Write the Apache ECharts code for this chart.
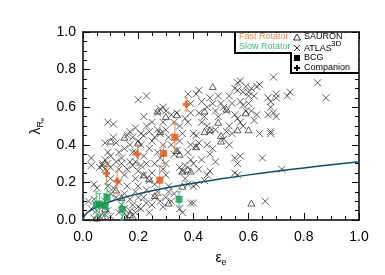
<!DOCTYPE html>
<html><head><meta charset="utf-8">
<script src="https://cdn.jsdelivr.net/npm/echarts@6/dist/echarts.min.js"></script>
<style>html,body{margin:0;padding:0;background:#fff}#c{width:385px;height:275px}</style>
</head><body><div id="c"></div>
<script>
// ATLAS3D (crosses) [epsilon, lambda]
const atlas = [
[0.03,0.33],[0.03,0.29],[0.04,0.19],[0.05,0.17],[0.04,0.11],[0.02,0.10],[0.03,0.06],[0.05,0.05],[0.06,0.02],[0.04,0.01],
[0.07,0.30],[0.06,0.28],[0.07,0.29],[0.08,0.27],[0.09,0.30],[0.08,0.32],[0.10,0.34],[0.09,0.36],[0.08,0.41],[0.09,0.52],
[0.11,0.51],[0.12,0.41],[0.11,0.44],[0.10,0.28],[0.10,0.22],[0.09,0.18],[0.10,0.14],[0.08,0.10],[0.07,0.07],[0.08,0.03],
[0.09,0.05],[0.10,0.02],[0.11,0.17],[0.12,0.12],[0.13,0.20],[0.13,0.27],[0.12,0.31],[0.14,0.33],[0.13,0.36],[0.15,0.38],
[0.14,0.30],[0.15,0.24],[0.16,0.18],[0.15,0.14],[0.14,0.08],[0.13,0.04],[0.15,0.06],[0.16,0.02],[0.17,0.05],[0.18,0.08],
[0.17,0.11],[0.16,0.27],[0.17,0.31],[0.18,0.29],[0.17,0.40],[0.18,0.44],[0.17,0.47],[0.16,0.45],[0.19,0.49],[0.18,0.36],
[0.19,0.31],[0.19,0.22],[0.20,0.18],[0.19,0.15],[0.20,0.12],[0.19,0.04],[0.20,0.07],[0.20,0.26],[0.21,0.29],[0.20,0.42],
[0.20,0.64],[0.21,0.40],[0.21,0.46],[0.19,0.36],[0.22,0.45],[0.23,0.50],[0.22,0.55],[0.23,0.66],[0.24,0.47],[0.25,0.42],
[0.24,0.38],[0.22,0.34],[0.23,0.30],[0.22,0.24],[0.24,0.21],[0.23,0.16],[0.22,0.12],[0.23,0.09],[0.21,0.06],[0.24,0.04],
[0.25,0.08],[0.26,0.12],[0.27,0.15],[0.26,0.19],[0.25,0.25],[0.26,0.30],[0.27,0.36],[0.26,0.44],[0.27,0.48],[0.25,0.52],
[0.27,0.57],[0.28,0.59],[0.29,0.60],[0.30,0.58],[0.29,0.52],[0.28,0.46],[0.29,0.40],[0.28,0.33],[0.29,0.27],[0.30,0.24],
[0.28,0.10],[0.29,0.07],[0.30,0.12],[0.31,0.15],[0.30,0.30],[0.31,0.44],[0.30,0.48],[0.32,0.56],[0.33,0.52],[0.34,0.57],
[0.35,0.50],[0.36,0.46],[0.35,0.42],[0.34,0.37],[0.33,0.35],[0.32,0.40],[0.31,0.18],[0.33,0.14],[0.32,0.10],[0.35,0.06],
[0.36,0.04],[0.35,0.28],[0.36,0.26],[0.37,0.29],[0.38,0.67],[0.37,0.54],[0.38,0.52],[0.39,0.57],[0.39,0.62],[0.40,0.46],
[0.39,0.40],[0.38,0.36],[0.39,0.32],[0.40,0.30],[0.37,0.22],[0.38,0.19],[0.39,0.09],[0.40,0.09],[0.40,0.18],[0.41,0.67],
[0.42,0.69],[0.43,0.63],[0.42,0.57],[0.44,0.55],[0.43,0.52],[0.41,0.45],[0.42,0.41],[0.41,0.39],[0.43,0.32],[0.42,0.27],
[0.41,0.19],[0.44,0.21],[0.45,0.60],[0.46,0.65],[0.47,0.62],[0.48,0.58],[0.45,0.50],[0.46,0.47],[0.48,0.48],[0.49,0.55],
[0.50,0.62],[0.49,0.66],[0.47,0.38],[0.46,0.35],[0.45,0.40],[0.48,0.31],[0.46,0.26],[0.45,0.24],[0.51,0.60],[0.52,0.58],
[0.53,0.66],[0.54,0.62],[0.55,0.70],[0.56,0.73],[0.57,0.74],[0.56,0.69],[0.57,0.63],[0.58,0.68],[0.59,0.71],[0.55,0.56],
[0.56,0.54],[0.57,0.52],[0.53,0.50],[0.52,0.47],[0.54,0.46],[0.51,0.43],[0.53,0.40],[0.55,0.33],[0.57,0.34],[0.56,0.30],
[0.55,0.25],[0.56,0.24],[0.58,0.50],[0.59,0.58],[0.60,0.62],[0.58,0.61],[0.60,0.68],[0.61,0.70],[0.62,0.66],[0.63,0.71],
[0.64,0.72],[0.60,0.66],[0.61,0.58],[0.63,0.56],[0.62,0.53],[0.64,0.46],[0.65,0.33],[0.66,0.10],[0.67,0.65],[0.68,0.63],
[0.70,0.67],[0.69,0.76],[0.70,0.65],[0.68,0.60],[0.69,0.57],[0.70,0.55],[0.67,0.56],[0.68,0.46],[0.68,0.47],[0.72,0.27],
[0.74,0.66],[0.75,0.68],[0.85,0.73],[0.88,0.65]
];
// SAURON (open triangles)
const sauron = [
[0.05,0.01],[0.07,0.02],[0.10,0.42],[0.12,0.16],[0.14,0.12],[0.15,0.02],[0.17,0.03],[0.18,0.02],[0.22,0.24],[0.24,0.22],
[0.30,0.55],[0.31,0.09],[0.34,0.37],[0.35,0.35],[0.34,0.56],[0.36,0.26],[0.38,0.27],[0.39,0.26],[0.41,0.39],[0.44,0.47],
[0.46,0.48],[0.47,0.71],[0.49,0.52],[0.50,0.45],[0.50,0.42],[0.56,0.48],[0.59,0.57],[0.60,0.48],[0.61,0.09],[0.15,0.44],
[0.20,0.41],[0.27,0.58],[0.28,0.47],[0.08,0.06],[0.44,0.58],[0.52,0.59],[0.26,0.13],[0.36,0.18]
];
// Fast rotators: [eps, lambda, low, high]
const fastBCG = [[0.278,0.212,0.13,0.29],[0.292,0.354,0.30,0.40],[0.333,0.44,0.36,0.51]];
const fastComp = [[0.085,0.248,0.19,0.30],[0.124,0.207,0.14,0.26],[0.197,0.35,0.29,0.40],[0.374,0.615,0.58,0.65]];
// Slow rotators: [eps, lambda, low, high]
const slowBCG = [[0.048,0.081,0.02,0.15],[0.060,0.085,0.03,0.14],[0.080,0.078,0.02,0.14],[0.087,0.12,0.06,0.19],[0.142,0.057,0.00,0.11],[0.348,0.11,0.07,0.15]];
// Fast/slow dividing line
const divEps = [0,0.005,0.01,0.02,0.04,0.07,0.1,0.15,0.2,0.3,0.4,0.5,0.6,0.7,0.8,0.9,1.0];
const divLam = [0,0.022,0.031,0.044,0.062,0.082,0.098,0.12,0.139,0.17,0.196,0.219,0.24,0.259,0.277,0.294,0.31];
const ticks = [0,0.2,0.4,0.6,0.8,1.0];

const ORANGE='#e2520e', ORANGE_L='#f08a50', GREEN='#129a4e', GREEN_L='#3fbf7a';
const FONT='Liberation Sans';
const PLUS='path://M3,0h4v3h3v4h-3v3h-4v-3h-3v-4h3z';
const CROSS='path://M0,0L10,10M10,0L0,10';

function errSeries(data,color){
  return {type:'custom', z:3, data:data.map(d=>[d[0],d[2],d[3]]),
    renderItem:function(p,api){
      const a=api.coord([api.value(0),api.value(1)]), b=api.coord([api.value(0),api.value(2)]);
      const st={stroke:color,lineWidth:1};
      return {type:'group',children:[
        {type:'line',shape:{x1:a[0],y1:a[1],x2:b[0],y2:b[1]},style:st},
        {type:'line',shape:{x1:a[0]-2,y1:a[1],x2:a[0]+2,y2:a[1]},style:st},
        {type:'line',shape:{x1:b[0]-2,y1:b[1],x2:b[0]+2,y2:b[1]},style:st}]};
    }};
}
function axisBase(){
  return {type:'value',min:0,max:1,interval:0.2,splitLine:{show:false},
  axisLine:{show:true,onZero:false,lineStyle:{color:'#000',width:1.5}},
  axisTick:{show:true,inside:true,length:7,lineStyle:{color:'#000',width:1}},
  minorTick:{show:true,splitNumber:4,length:4,lineStyle:{color:'#000',width:1}}};
}

const chart = echarts.init(document.getElementById('c'),null,{renderer:'canvas'});
chart.setOption({
  animation:false,
  grid:{left:83,right:26,top:32,bottom:55,show:false},
  xAxis:[
    Object.assign(axisBase(),{position:'bottom',
      name:'ε{s|e}',nameLocation:'middle',nameGap:30,
      nameTextStyle:{fontFamily:FONT,fontSize:14,color:'#000',rich:{s:{fontFamily:FONT,fontSize:9,color:'#000',padding:[8,0,0,0]}}},
      axisLabel:{fontFamily:FONT,fontSize:14,color:'#000',margin:10,formatter:v=>v.toFixed(1)}}),
    Object.assign(axisBase(),{position:'top',axisLabel:{show:false}})
  ],
  yAxis:[
    Object.assign(axisBase(),{position:'left',
      name:'λ{s|R}{t|e}',nameLocation:'middle',nameGap:30,nameRotate:90,
      nameTextStyle:{fontFamily:FONT,fontSize:14,color:'#000',rich:{s:{fontFamily:FONT,fontSize:9,color:'#000',padding:[8,0,0,0]},t:{fontFamily:FONT,fontSize:6,color:'#000',padding:[12,0,0,0]}}},
      axisLabel:{fontFamily:FONT,fontSize:14,color:'#000',margin:7,formatter:v=>v.toFixed(1)}}),
    Object.assign(axisBase(),{position:'right',axisLabel:{show:false}})
  ],
  series:[
    {type:'scatter',data:atlas,symbol:CROSS,symbolSize:7,z:2,
      itemStyle:{color:'none',borderColor:'#222',borderWidth:0.9}},
    {type:'scatter',data:sauron,symbol:'triangle',symbolSize:[7,6],z:2,
      itemStyle:{color:'rgba(0,0,0,0)',borderColor:'#222',borderWidth:0.9}},
    {type:'line',data:divEps.map((e,i)=>[e,divLam[i]]),smooth:true,showSymbol:false,symbol:'none',z:4,
      lineStyle:{color:'#0c4d6b',width:1.5}},
    errSeries(fastBCG,ORANGE_L), errSeries(fastComp,ORANGE_L), errSeries(slowBCG,GREEN_L),
    {type:'scatter',data:fastBCG.map(d=>[d[0],d[1]]),symbol:'rect',symbolSize:7,z:5,itemStyle:{color:ORANGE}},
    {type:'scatter',data:fastComp.map(d=>[d[0],d[1]]),symbol:PLUS,symbolSize:7,z:5,itemStyle:{color:ORANGE}},
    {type:'scatter',data:slowBCG.map(d=>[d[0],d[1]]),symbol:'rect',symbolSize:7,z:5,itemStyle:{color:GREEN}}
  ],
  graphic:[
    {type:'rect',shape:{x:236,y:33,width:122,height:20},style:{fill:'#fff'},z:10},
    {type:'rect',shape:{x:291,y:33,width:67,height:40},style:{fill:'#fff'},z:10},
    {type:'polyline',shape:{points:[[235,32],[235,53],[291,53],[291,73],[359,73]]},style:{stroke:'#000',lineWidth:2,fill:null},z:11},
    {type:'text',left:239,top:32,style:{text:'Fast Rotator',fill:ORANGE_L,font:'9px '+FONT},z:11},
    {type:'text',left:239,top:42,style:{text:'Slow Rotator',fill:GREEN_L,font:'9px '+FONT},z:11},
    {type:'polygon',shape:{points:[[297,34],[293.5,40],[300.5,40]]},style:{fill:null,stroke:'#000',lineWidth:0.8},z:11},
    {type:'text',left:304,top:32,style:{text:'SAURON',fill:'#000',font:'9px '+FONT},z:11},
    {type:'line',shape:{x1:294,y1:45,x2:300,y2:51},style:{stroke:'#000',lineWidth:0.8},z:11},
    {type:'line',shape:{x1:300,y1:45,x2:294,y2:51},style:{stroke:'#000',lineWidth:0.8},z:11},
    {type:'text',left:304,top:44,style:{text:'ATLAS',fill:'#000',font:'9px '+FONT},z:11},
    {type:'text',left:331,top:40,style:{text:'3D',fill:'#000',font:'8px '+FONT},z:11},
    {type:'rect',shape:{x:294,y:55,width:6,height:6},style:{fill:'#000'},z:11},
    {type:'text',left:304,top:53,style:{text:'BCG',fill:'#000',font:'9px '+FONT},z:11},
    {type:'polygon',shape:{points:[[296,65],[298,65],[298,67],[300,67],[300,69],[298,69],[298,71],[296,71],[296,69],[294,69],[294,67],[296,67]]},style:{fill:'#000'},z:11},
    {type:'text',left:304,top:63,style:{text:'Companion',fill:'#000',font:'9px '+FONT},z:11}
  ]
});
</script></body></html>
